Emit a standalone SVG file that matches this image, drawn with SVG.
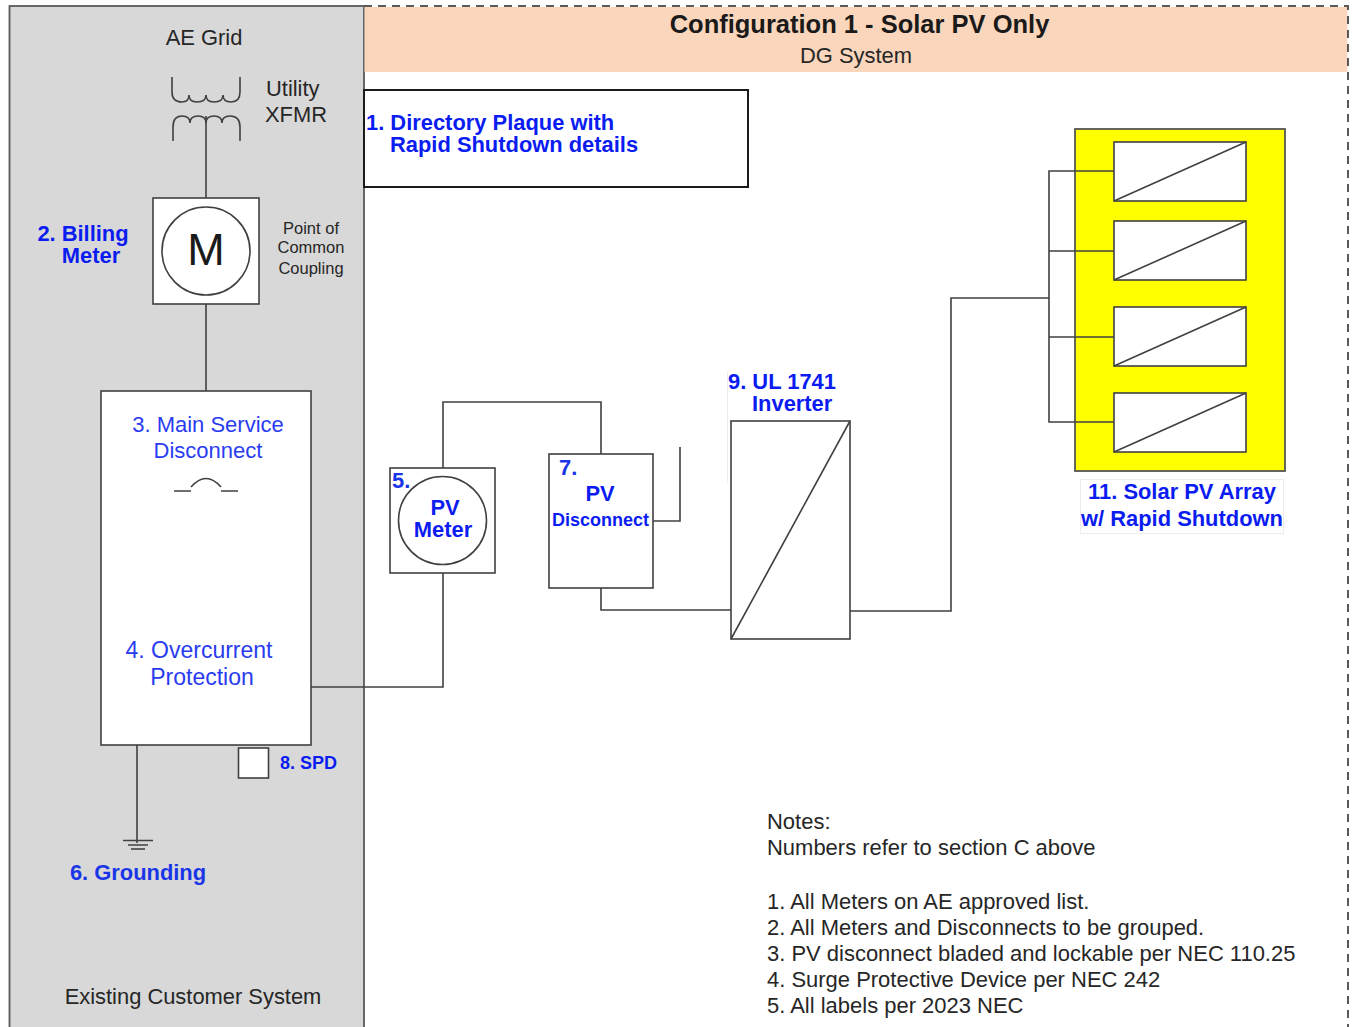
<svg xmlns="http://www.w3.org/2000/svg" width="1356" height="1027" viewBox="0 0 1356 1027">
<style>
text{font-family:"Liberation Sans",Arial,sans-serif}
.k{fill:#262626;font-size:21.900px}
.n{fill:#262626;font-size:21.970px}
.b{fill:#0a1cf0;font-weight:700;font-size:21.900px}
.l{fill:#2a3cf0;font-size:22px}
.s{fill:none;stroke:#404040;stroke-width:1.600}
.w{fill:#fff;stroke:#404040;stroke-width:1.600}
.d{stroke:#404040;stroke-width:1.600;fill:none}
.f{fill:#fff;stroke:#ececec;stroke-width:1}
</style>
<rect width="1356" height="1027" fill="#fff"/>
<g id="customer-zone"><rect x="9.500" y="6" width="354.500" height="1030" fill="#d8d8d8" stroke="#595959" stroke-width="1.800"/></g>
<g id="header">
<rect x="364.500" y="7" width="983" height="65" fill="#fad7bc"/>
<path d="M364 6H1348V1027" fill="none" stroke="#595959" stroke-width="2" stroke-dasharray="8 6"/>
<text x="859.500" y="33" text-anchor="middle" font-size="25.500" font-weight="700" fill="#1a1a1a">Configuration 1 - Solar PV Only</text>
<text x="856" y="63" text-anchor="middle" class="k">DG System</text>
</g>
<g id="ae-grid"><text x="204" y="45" text-anchor="middle" class="k">AE Grid</text></g>
<g id="utility-xfmr">
<path class="s" d="M172 77V92Q172 102 182 102Q189 102 189 95Q189 102 197 102Q206 102 206 95Q206 102 214 102Q223 102 223 95Q223 102 231 102Q240 102 240 92V77"/>
<path class="s" d="M173 141V127Q173 116 182 116Q190 116 190 123Q190 116 198 116Q206 116 206 123Q206 116 214 116Q222 116 222 123Q222 116 230 116Q240 116 240 127V141"/>
<text x="266" y="96" class="k">Utility</text><text x="265" y="122" class="k">XFMR</text>
</g>
<g id="billing-meter">
<rect class="w" x="153" y="198" width="106" height="106"/><circle class="w" cx="206" cy="251" r="44"/>
<text x="206" y="265" text-anchor="middle" font-size="45" fill="#1a1a1a">M</text>
<text x="83" y="241" text-anchor="middle" class="b">2. Billing</text><text x="91" y="263" text-anchor="middle" class="b">Meter</text>
<g font-size="16.500" fill="#262626" text-anchor="middle"><text x="311" y="234">Point of</text><text x="311" y="253">Common</text><text x="311" y="274">Coupling</text></g>
</g>
<g id="main-service">
<rect class="w" x="101" y="391" width="210" height="354"/>
<text x="208" y="432" text-anchor="middle" class="l">3. Main Service</text><text x="208" y="458" text-anchor="middle" class="l">Disconnect</text>
<path class="s" d="M174 491H191M221 491H238M191 487Q206 470 221 487"/>
<text x="199" y="658" text-anchor="middle" class="l" style="font-size:23px">4. Overcurrent</text><text x="202" y="685" text-anchor="middle" class="l" style="font-size:23px">Protection</text>
</g>
<g id="spd"><rect class="w" x="238.500" y="748" width="30" height="30"/><text x="280" y="769" fill="#0a1cf0" font-size="18" font-weight="700">8. SPD</text></g>
<g id="grounding">
<path class="s" d="M123 840.500H153M128 845H148"/><path d="M131 849H145" stroke="#606060" stroke-width="2"/>
<text x="138" y="880" text-anchor="middle" class="b" style="fill:#1a35e8">6. Grounding</text>
</g>
<g id="existing"><text x="193" y="1004" text-anchor="middle" class="k">Existing Customer System</text></g>
<g id="plaque">
<rect x="364" y="90" width="384" height="97" fill="#fff" stroke="#1a1a1a" stroke-width="2"/>
<text x="366" y="130" class="b">1. Directory Plaque with</text><text x="390" y="152" class="b">Rapid Shutdown details</text>
</g>
<g id="pv-meter">
<rect class="w" x="390" y="468" width="105" height="105"/><circle class="w" cx="442.500" cy="520.500" r="44"/>
<text x="392" y="488" class="b" style="fill:#1a35e8">5.</text>
<text x="445" y="515" text-anchor="middle" class="b">PV</text><text x="443" y="537" text-anchor="middle" class="b">Meter</text>
</g>
<g id="pv-disconnect">
<rect class="w" x="549" y="454" width="104" height="134"/>
<text x="559" y="475" class="b" style="fill:#1a35e8">7.</text>
<text x="600" y="501" text-anchor="middle" class="b">PV</text>
<text x="600.500" y="526" text-anchor="middle" fill="#0a1cf0" font-size="18" font-weight="700">Disconnect</text>
</g>
<g id="inverter">
<path d="M727.500 372V483" stroke="#ececec" stroke-width="1"/>
<rect class="w" x="731" y="421" width="119" height="218"/><path class="d" d="M731 639L850 421"/>
<text x="728" y="389" class="b">9. UL 1741</text><text x="752" y="411" class="b">Inverter</text>
</g>
<g id="pv-array">
<rect x="1075" y="129" width="210" height="342" fill="#ffff00" stroke="#555" stroke-width="1.800"/>
<g id="panel-1"><rect class="w" x="1114" y="142" width="132" height="59"/><path class="d" d="M1114 201L1246 142"/></g>
<g id="panel-2"><rect class="w" x="1114" y="221" width="132" height="59"/><path class="d" d="M1114 280L1246 221"/></g>
<g id="panel-3"><rect class="w" x="1114" y="307" width="132" height="59"/><path class="d" d="M1114 366L1246 307"/></g>
<g id="panel-4"><rect class="w" x="1114" y="393" width="132" height="59"/><path class="d" d="M1114 452L1246 393"/></g>
<rect class="f" x="1080.500" y="479.500" width="203" height="54"/>
<text x="1182" y="499" text-anchor="middle" class="b">11. Solar PV Array</text><text x="1182" y="526" text-anchor="middle" class="b">w/ Rapid Shutdown</text>
</g>
<g id="notes" class="n">
<text x="767" y="829">Notes:</text>
<text x="767" y="855">Numbers refer to section C above</text>
<text x="767" y="909">1. All Meters on AE approved list.</text>
<text x="767" y="935">2. All Meters and Disconnects to be grouped.</text>
<text x="767" y="961">3.  PV disconnect bladed and lockable per NEC 110.25</text>
<text x="767" y="987">4.  Surge Protective Device per NEC 242</text>
<text x="767" y="1013">5. All labels per 2023 NEC</text>
</g>
<g id="connectors" class="s">
<path d="M206 116V198M206 304V391"/>
<path d="M311 687H443V573M443 468V402H601V454"/>
<path d="M653 521H680V447"/>
<path d="M601 588V610H731"/>
<path d="M850 611H951V298H1049"/>
<path d="M1114 171H1049V422H1114M1049 251H1114M1049 337H1114"/>
<path d="M137 745V843"/>
</g>
</svg>
